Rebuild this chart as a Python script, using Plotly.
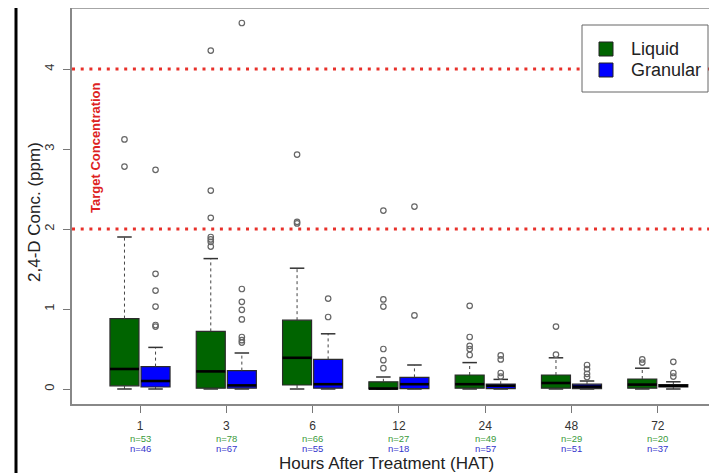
import plotly.graph_objects as go

# ---------------- data ----------------
hours = ["1", "3", "6", "12", "24", "48", "72"]
n_liquid = [53, 78, 66, 27, 49, 29, 20]
n_granular = [46, 67, 55, 18, 57, 51, 37]

liq_q1 = [0.04, 0.01, 0.05, 0.00, 0.01, 0.01, 0.01]
liq_med = [0.25, 0.22, 0.39, 0.005, 0.06, 0.075, 0.055]
liq_q3 = [0.88, 0.72, 0.86, 0.09, 0.175, 0.175, 0.125]
liq_lo = [0.0, 0.0, 0.0, 0.0, 0.0, 0.0, 0.0]
liq_hi = [1.90, 1.63, 1.51, 0.15, 0.33, 0.39, 0.26]
liq_out = [
    [3.12, 2.78],
    [4.23, 2.48, 2.14, 1.90, 1.87, 1.84, 1.78],
    [2.93, 2.09, 2.07],
    [2.23, 1.12, 1.03, 0.50, 0.36, 0.26],
    [1.04, 0.65, 0.54, 0.50, 0.425],
    [0.78, 0.43],
    [0.37, 0.33],
]

gran_q1 = [0.025, 0.01, 0.01, 0.005, 0.005, 0.005, 0.025]
gran_med = [0.10, 0.045, 0.06, 0.06, 0.04, 0.03, 0.04]
gran_q3 = [0.28, 0.23, 0.37, 0.145, 0.06, 0.06, 0.055]
gran_lo = [0.0, 0.0, 0.0, 0.0, 0.0, 0.0, 0.0]
gran_hi = [0.52, 0.45, 0.69, 0.30, 0.12, 0.10, 0.09]
gran_out = [
    [2.74, 1.44, 1.23, 1.03, 0.80, 0.78],
    [4.575, 1.25, 1.09, 0.99, 0.87, 0.65, 0.61, 0.58],
    [1.13, 0.90],
    [2.28, 0.92],
    [0.42, 0.37, 0.20, 0.155],
    [0.30, 0.25, 0.19, 0.15],
    [0.34, 0.20, 0.155],
]

series_names = ["Liquid", "Granular"]
target_levels = [2, 4]
target_label = "Target Concentration"

# ---------------- styling ----------------
FONT = "Liberation Sans, Arial, sans-serif"
LIQ_COLOR = "#006400"
GRAN_COLOR = "#0000FF"
OFF = 0.18
BW = 0.336
CAP = BW / 4

fig = go.Figure()
pos = list(range(len(hours)))


def add_series(name, color, offset, q1, med, q3, lo, hi, outl):
    xs = [p + offset for p in pos]
    fig.add_trace(go.Box(
        x=xs, q1=q1, median=med, q3=q3, lowerfence=q1, upperfence=q3,
        width=BW, fillcolor=color, line=dict(color="#2b2b2b", width=1.2),
        whiskerwidth=0, boxpoints=False, showlegend=False, hoverinfo="skip",
        name=name))
    wx, wy, cx, cy, mx, my = [], [], [], [], [], []
    for x, a, m, b, l, h in zip(xs, q1, med, q3, lo, hi):
        wx += [x, x, None, x, x, None]
        wy += [b, h, None, a, l, None]
        cx += [x - CAP, x + CAP, None, x - CAP, x + CAP, None]
        cy += [h, h, None, l, l, None]
        mx += [x - BW / 2, x + BW / 2, None]
        my += [m, m, None]
    # dashed whiskers
    fig.add_trace(go.Scatter(x=wx, y=wy, mode="lines", showlegend=False, hoverinfo="skip",
                             line=dict(color="#444444", width=1, dash="3px,3px")))
    # staples
    fig.add_trace(go.Scatter(x=cx, y=cy, mode="lines", showlegend=False, hoverinfo="skip",
                             line=dict(color="#333333", width=1.5)))
    # medians
    fig.add_trace(go.Scatter(x=mx, y=my, mode="lines", showlegend=False, hoverinfo="skip",
                             line=dict(color="#000000", width=2.6)))
    # outliers
    ox, oy = [], []
    for x, vals in zip(xs, outl):
        ox += [x] * len(vals)
        oy += vals
    fig.add_trace(go.Scatter(x=ox, y=oy, mode="markers", showlegend=False, hoverinfo="skip",
                             marker=dict(symbol="circle-open", size=5.5,
                                         color="#666666", line=dict(width=1.2))))


add_series(series_names[0], LIQ_COLOR, -OFF, liq_q1, liq_med, liq_q3, liq_lo, liq_hi, liq_out)
add_series(series_names[1], GRAN_COLOR, OFF, gran_q1, gran_med, gran_q3, gran_lo, gran_hi, gran_out)

# ---------------- layout geometry (page body has an 8px margin) ----------------
PAGE_OFF = 8
WIN_W, WIN_H = 717, 473
W, H = WIN_W - PAGE_OFF, WIN_H - PAGE_OFF
PLOT_L, PLOT_T, PLOT_B = 72, 8, 404          # in window pixels
ML = PLOT_L - PAGE_OFF
MT = PLOT_T - PAGE_OFF
MB = H - (PLOT_B - PAGE_OFF)
MR = 0
PW = W - ML - MR
PH = H - MT - MB


def px_x(px):
    return (px - PLOT_L) / PW


def px_y(py):
    return (PLOT_B - py) / PH


shapes = []
for lvl in target_levels:
    shapes.append(dict(type="line", xref="paper", yref="y", x0=0, x1=1, y0=lvl, y1=lvl,
                       line=dict(color="#E8302A", width=3, dash="3px,5.7px")))
# top frame line
shapes.append(dict(type="line", xref="paper", yref="paper", x0=0, x1=1, y0=1, y1=1,
                   line=dict(color="#888888", width=1.5)))
# legend box
shapes.append(dict(type="rect", xref="paper", yref="paper",
                   x0=px_x(582), x1=px_x(708), y0=px_y(92), y1=px_y(25),
                   fillcolor="white", line=dict(color="#666666", width=1)))
# legend keys
for i, col in enumerate([LIQ_COLOR, GRAN_COLOR]):
    cyc = 49 + 21 * i
    shapes.append(dict(type="rect", xref="paper", yref="paper",
                       x0=px_x(599), x1=px_x(613), y0=px_y(cyc + 7), y1=px_y(cyc - 7),
                       fillcolor=col, line=dict(color="#222222", width=1)))
# screenshot border at the left
shapes.append(dict(type="line", xref="paper", yref="paper",
                   x0=px_x(16), x1=px_x(16), y0=px_y(WIN_H + 2), y1=px_y(-2),
                   line=dict(color="#000000", width=3)))

annotations = []
for i, (nl, ng) in enumerate(zip(n_liquid, n_granular)):
    annotations.append(dict(x=pos[i], y=px_y(438), xref="x", yref="paper", showarrow=False,
                            xanchor="center", yanchor="middle",
                            text=f"n={nl}", font=dict(family=FONT, size=9.5, color="#3A9A3A")))
    annotations.append(dict(x=pos[i], y=px_y(448), xref="x", yref="paper", showarrow=False,
                            xanchor="center", yanchor="middle",
                            text=f"n={ng}", font=dict(family=FONT, size=9.5, color="#3535CC")))
annotations.append(dict(x=px_x(386), y=px_y(463), xref="paper", yref="paper", showarrow=False,
                        xanchor="center", yanchor="middle",
                        text="Hours After Treatment (HAT)",
                        font=dict(family=FONT, size=17, color="#222222")))
annotations.append(dict(x=px_x(34), y=px_y(212), xref="paper", yref="paper", showarrow=False,
                        xanchor="center", yanchor="middle",
                        text="2,4-D Conc. (ppm)", textangle=-90,
                        font=dict(family=FONT, size=17, color="#222222")))
annotations.append(dict(x=px_x(96), y=px_y(148), xref="paper", yref="paper", showarrow=False,
                        xanchor="center", yanchor="middle",
                        text=f"<b>{target_label}</b>", textangle=-90,
                        font=dict(family=FONT, size=13, color="#DD2222")))
for i, nm in enumerate(series_names):
    annotations.append(dict(x=px_x(629), y=px_y(49 + 21 * i), xref="paper", yref="paper",
                            showarrow=False, xanchor="left", yanchor="middle", text=nm,
                            font=dict(family=FONT, size=18, color="#222222")))

fig.update_layout(
    width=W, height=H,
    margin=dict(l=ML, r=MR, t=MT, b=MB, pad=0),
    paper_bgcolor="white", plot_bgcolor="white",
    font=dict(family=FONT, color="#333333"),
    showlegend=False,
    xaxis=dict(range=[-0.788, 6.686], tickmode="array", tickvals=pos, ticktext=hours,
               ticks="outside", ticklen=7, tickcolor="#777777", tickwidth=1,
               showline=True, linecolor="#888888", linewidth=1.5,
               showgrid=False, zeroline=False, ticklabelstandoff=3,
               tickfont=dict(family=FONT, size=12, color="#333333")),
    yaxis=dict(range=[-0.1875, 4.7625], tickmode="array", tickvals=[0, 1, 2, 3, 4],
               ticktext=["0", "1", "2", "3", "4"], tickangle=-90,
               ticks="outside", ticklen=7, tickcolor="#777777", tickwidth=1,
               showline=True, linecolor="#888888", linewidth=1.5,
               showgrid=False, zeroline=False, ticklabelstandoff=4,
               tickfont=dict(family=FONT, size=13, color="#333333")),
    shapes=shapes,
    annotations=annotations,
)

fig.write_html("out.html")
